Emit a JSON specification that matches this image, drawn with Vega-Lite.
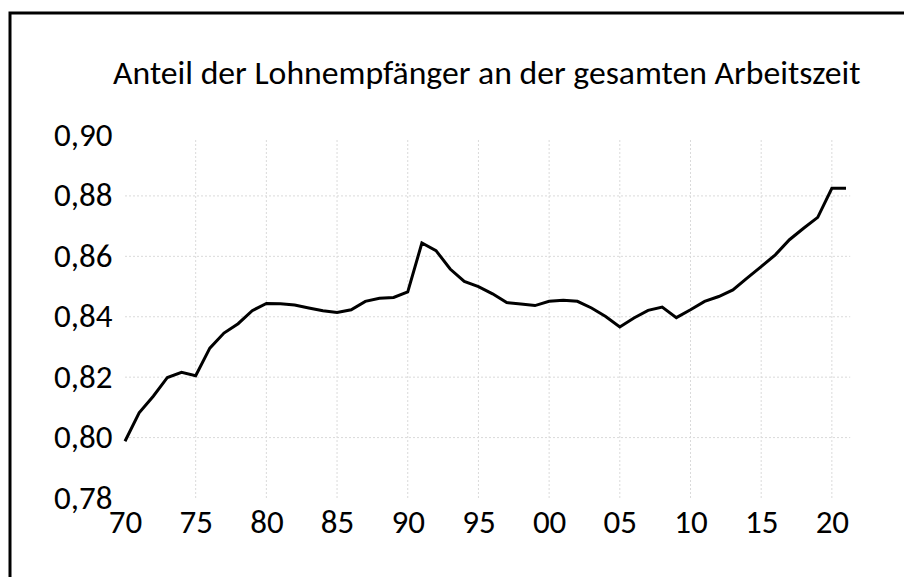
{
  "$schema": "https://vega.github.io/schema/vega-lite/v6.json",
  "autosize": "none",
  "width": 930,
  "height": 600,
  "padding": {"left": 10, "top": 13, "right": -36, "bottom": -36},
  "background": "white",
  "config": {
    "view": {"stroke": "black", "strokeWidth": 3},
    "font": "Carlito, Lato, sans-serif"
  },
  "title": {
    "text": "Anteil der Lohnempfänger an der gesamten Arbeitszeit",
    "anchor": "start",
    "orient": "top",
    "baseline": "alphabetic",
    "offset": -105,
    "dx": 103,
    "fontSize": 33.7,
    "fontWeight": "normal",
    "color": "black",
    "font": "Carlito, Lato, sans-serif"
  },
  "datasets": {
    "series": [
      {"year": 1970, "share": 0.7988},
      {"year": 1971, "share": 0.8082},
      {"year": 1972, "share": 0.8137},
      {"year": 1973, "share": 0.8199},
      {"year": 1974, "share": 0.8216},
      {"year": 1975, "share": 0.8205},
      {"year": 1976, "share": 0.8296},
      {"year": 1977, "share": 0.8346},
      {"year": 1978, "share": 0.8377},
      {"year": 1979, "share": 0.842},
      {"year": 1980, "share": 0.8444},
      {"year": 1981, "share": 0.8443},
      {"year": 1982, "share": 0.8439},
      {"year": 1983, "share": 0.8429},
      {"year": 1984, "share": 0.842},
      {"year": 1985, "share": 0.8414},
      {"year": 1986, "share": 0.8423},
      {"year": 1987, "share": 0.8451},
      {"year": 1988, "share": 0.8461},
      {"year": 1989, "share": 0.8464},
      {"year": 1990, "share": 0.8482},
      {"year": 1991, "share": 0.8644},
      {"year": 1992, "share": 0.8619},
      {"year": 1993, "share": 0.8558},
      {"year": 1994, "share": 0.8517},
      {"year": 1995, "share": 0.85},
      {"year": 1996, "share": 0.8476},
      {"year": 1997, "share": 0.8447},
      {"year": 1998, "share": 0.8442},
      {"year": 1999, "share": 0.8437},
      {"year": 2000, "share": 0.8451},
      {"year": 2001, "share": 0.8455},
      {"year": 2002, "share": 0.8451},
      {"year": 2003, "share": 0.8429},
      {"year": 2004, "share": 0.8401},
      {"year": 2005, "share": 0.8366},
      {"year": 2006, "share": 0.8396},
      {"year": 2007, "share": 0.8421},
      {"year": 2008, "share": 0.8432},
      {"year": 2009, "share": 0.8397},
      {"year": 2010, "share": 0.8423},
      {"year": 2011, "share": 0.8451},
      {"year": 2012, "share": 0.8467},
      {"year": 2013, "share": 0.8489},
      {"year": 2014, "share": 0.8528},
      {"year": 2015, "share": 0.8566},
      {"year": 2016, "share": 0.8605},
      {"year": 2017, "share": 0.8655},
      {"year": 2018, "share": 0.8693},
      {"year": 2019, "share": 0.8729},
      {"year": 2020, "share": 0.8825},
      {"year": 2021, "share": 0.8825}
    ],
    "vgrid": [
      {"year": 1975}, {"year": 1980}, {"year": 1985}, {"year": 1990}, {"year": 1995},
      {"year": 2000}, {"year": 2005}, {"year": 2010}, {"year": 2015}, {"year": 2020}
    ],
    "hgrid": [
      {"share": 0.8}, {"share": 0.82}, {"share": 0.84}, {"share": 0.86}, {"share": 0.88}
    ]
  },
  "layer": [
    {
      "data": {"name": "hgrid"},
      "mark": {"type": "rule", "color": "#dadada", "strokeWidth": 1, "strokeDash": [2, 2]},
      "encoding": {
        "y": {"field": "share", "type": "quantitative", "scale": {"domain": [0.78, 0.9], "range": [485, 122.5], "zero": false, "nice": false}},
        "x": {"datum": 1970, "type": "quantitative"},
        "x2": {"datum": 2021.3}
      }
    },
    {
      "data": {"name": "vgrid"},
      "mark": {"type": "rule", "color": "#dadada", "strokeWidth": 1, "strokeDash": [2, 2]},
      "encoding": {
        "x": {"field": "year", "type": "quantitative"},
        "y": {"datum": 0.78, "type": "quantitative"},
        "y2": {"datum": 0.899}
      }
    },
    {
      "data": {"name": "series"},
      "mark": {"type": "line", "color": "black", "strokeWidth": 3, "strokeJoin": "miter"},
      "encoding": {
        "x": {
          "field": "year",
          "type": "quantitative",
          "scale": {"domain": [1970, 2021], "range": [115, 836], "zero": false, "nice": false},
          "axis": {
            "title": null,
            "orient": "bottom",
            "offset": -115,
            "values": [1970, 1975, 1980, 1985, 1990, 1995, 2000, 2005, 2010, 2015, 2020],
            "labelExpr": "slice(toString(datum.value), 2)",
            "labelFlush": false,
            "labelOverlap": false,
            "grid": false,
            "domain": false,
            "ticks": false,
            "tickSize": 0,
            "labelPadding": 8,
            "labelFontSize": 33,
            "labelColor": "black",
            "labelFont": "Carlito, Lato, sans-serif"
          }
        },
        "y": {
          "field": "share",
          "type": "quantitative",
          "axis": {
            "title": null,
            "orient": "left",
            "offset": -115,
            "values": [0.78, 0.8, 0.82, 0.84, 0.86, 0.88, 0.9],
            "labelExpr": "replace(format(datum.value, '.2f'), '.', ',')",
            "labelOverlap": false,
            "labelFlush": false,
            "grid": false,
            "domain": false,
            "ticks": false,
            "tickSize": 0,
            "labelPadding": 13,
            "labelFontSize": 33,
            "labelColor": "black",
            "labelFont": "Carlito, Lato, sans-serif"
          }
        }
      }
    }
  ]
}
